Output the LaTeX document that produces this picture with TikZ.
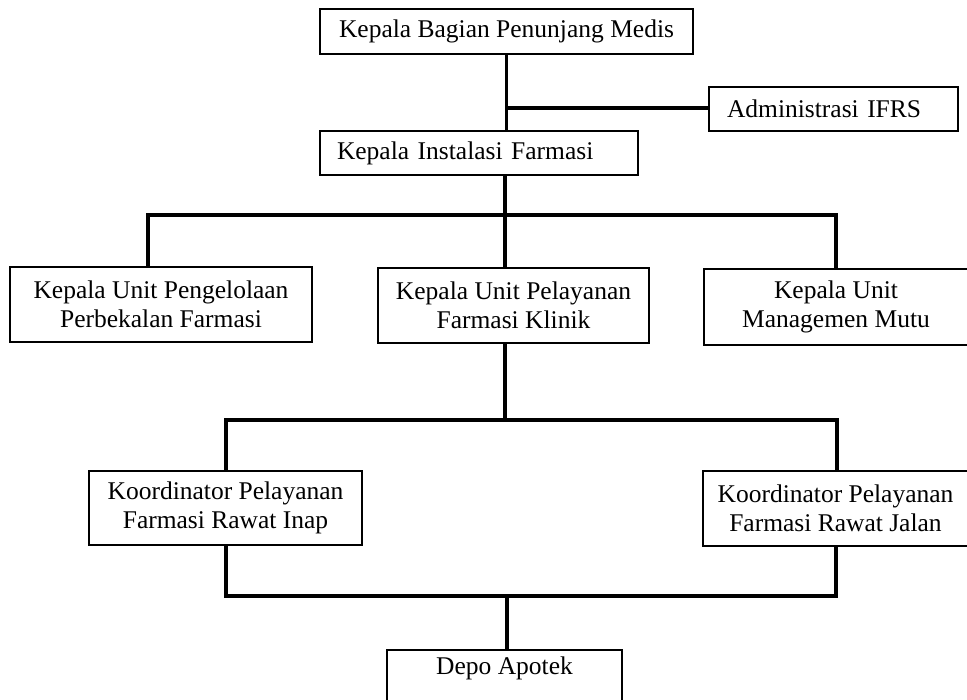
\documentclass[tikz,border=0pt]{standalone}
\usepackage{fontspec}
\setmainfont{Liberation Serif}
\begin{document}
\begin{tikzpicture}[x=1pt,y=-1pt,
  box/.style={draw, line width=2pt, inner sep=0pt, align=center, font=\fontsize{25.5}{28.5}\selectfont},
  conn/.style={line width=3.6pt}]
\useasboundingbox (0,0) rectangle (967,700);
\node[box, minimum width=373pt, minimum height=45pt] (top) at (506.5,31.5) {Kepala Bagian Penunjang Medis};
\node[box, minimum height=44pt, inner xsep=18pt, text width=213pt, align=left] (admin) at (833.5,109) {Administrasi IFRS};
\node[box, minimum height=44pt, inner xsep=17pt, text width=284pt, align=left] (inst) at (479,153) {Kepala Instalasi Farmasi};
\node[box, minimum width=302pt, minimum height=75pt] (box1) at (161,304.5) {Kepala Unit Pengelolaan\\Perbekalan Farmasi};
\node[box, minimum width=271pt, minimum height=75pt] (box2) at (513.5,305.5) {Kepala Unit Pelayanan\\Farmasi Klinik};
\node[box, minimum width=264pt, minimum height=76pt] (box3) at (836,307) {Kepala Unit\\Managemen Mutu};
\node[box, minimum width=273pt, minimum height=74pt] (inap) at (225.5,508) {Koordinator Pelayanan\\Farmasi Rawat Inap};
\node[box, minimum width=265pt, minimum height=75pt] (jalan) at (835.5,508.5) {Koordinator Pelayanan\\Farmasi Rawat Jalan};
\node[box, anchor=north, minimum width=235pt, inner ysep=4pt, text height=20pt, text depth=26pt] (depo) at (504.5,649) {Depo Apotek};

\coordinate (j1) at (506.5,108);
\draw[conn] (top.south) -- (top.south |- inst.north);
\draw[conn] (j1) -- (j1 -| admin.west);

\coordinate (bus1) at (505,215);
\coordinate (b1l) at (148,215);
\coordinate (b1r) at (836,215);
\draw[conn] (bus1 |- inst.south) -- (bus1);
\draw[conn] (b1l |- box1.north) -- (b1l) -- (b1r) -- (b1r |- box3.north);
\draw[conn] (bus1) -- (bus1 |- box2.north);

\coordinate (bus2) at (505,420);
\coordinate (b2l) at (226,420);
\coordinate (b2r) at (837,420);
\draw[conn] (bus2 |- box2.south) -- (bus2);
\draw[conn] (b2l |- inap.north) -- (b2l) -- (b2r) -- (b2r |- jalan.north);

\coordinate (b3l) at (226,596);
\coordinate (b3r) at (836,596);
\coordinate (b3m) at (507,596);
\draw[conn] (b3l |- inap.south) -- (b3l) -- (b3r) -- (b3r |- jalan.south);
\draw[conn] (b3m) -- (b3m |- depo.north);
\end{tikzpicture}
\end{document}
